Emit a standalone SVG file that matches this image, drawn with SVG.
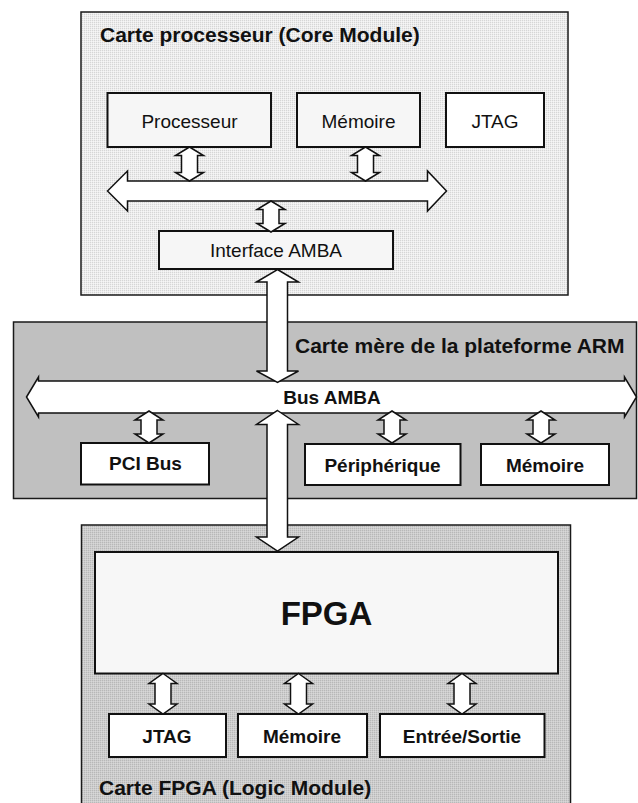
<svg xmlns="http://www.w3.org/2000/svg" width="638" height="803" viewBox="0 0 638 803">
<defs>
<pattern id="ditherLight" patternUnits="userSpaceOnUse" width="2" height="2">
<rect width="2" height="2" fill="#ededed"/>
<rect width="1" height="1" fill="#d6d6d6"/>
<rect x="1" y="1" width="1" height="1" fill="#f6f6f6"/>
</pattern>
<pattern id="ditherMid" patternUnits="userSpaceOnUse" width="2" height="2">
<rect width="2" height="2" fill="#cdcdcd"/>
<rect width="1" height="1" fill="#b8b8b8"/>
<rect x="1" y="1" width="1" height="1" fill="#d8d8d8"/>
</pattern>
<style>
.panel{stroke:#1a1a1a;stroke-width:1.5}
.box{stroke:#111;stroke-width:2}
.arrow{fill:#fff;stroke:#111;stroke-width:1.5;stroke-linejoin:miter}
.t{font-family:"Liberation Sans",Arial,sans-serif;fill:#111;font-size:19px;text-anchor:middle}
.b{font-weight:bold}
.title{font-family:"Liberation Sans",Arial,sans-serif;fill:#111;font-size:21px;font-weight:bold}
</style>
</defs>
<rect width="638" height="803" fill="#fff"/>

<g id="panel-core">
<rect class="panel" x="81" y="12" width="487" height="283" fill="url(#ditherLight)"/>
<text class="title" x="100" y="42">Carte processeur (Core Module)</text>
</g>
<g id="panel-mother">
<rect class="panel" x="13.5" y="322" width="623" height="176.5" fill="#c0c0c0"/>
<text class="title" x="295" y="353">Carte mère de la plateforme ARM</text>
</g>
<g id="panel-logic">
<rect class="panel" x="81.5" y="525" width="489" height="290" fill="url(#ditherMid)"/>
<text class="title" x="99" y="795">Carte FPGA (Logic Module)</text>
</g>

<g id="processeur"><rect class="box" x="107.5" y="93" width="163.5" height="54" fill="#f6f6f6"/><text class="t" x="189.5" y="128">Processeur</text></g>
<g id="memoire-core"><rect class="box" x="297" y="93" width="123" height="54" fill="#f6f6f6"/><text class="t" x="358.5" y="128">Mémoire</text></g>
<g id="jtag-core"><rect class="box" x="446" y="93" width="98" height="54" fill="#fff"/><text class="t" x="495" y="128">JTAG</text></g>
<g id="interface-amba"><rect class="box" x="159" y="231" width="234" height="38" fill="#f6f6f6"/><text class="t" x="276" y="257">Interface AMBA</text></g>

<g id="pci-bus"><rect class="box" x="81" y="443" width="128" height="41.5" fill="#fff"/><text class="t b" x="145.5" y="470">PCI Bus</text></g>
<g id="peripherique"><rect class="box" x="305" y="444" width="155.5" height="41" fill="#fff"/><text class="t b" x="382.5" y="471.5">Périphérique</text></g>
<g id="memoire-mother"><rect class="box" x="481" y="444" width="128" height="41" fill="#fff"/><text class="t b" x="545" y="471.5">Mémoire</text></g>

<g id="fpga"><rect class="box" x="95" y="552" width="463" height="121.5" fill="#f7f7f7"/><text class="t b" x="326.5" y="625" style="font-size:33px">FPGA</text></g>
<g id="jtag-logic"><rect class="box" x="109" y="714" width="117" height="43" fill="#fff"/><text class="t b" x="167" y="742.5">JTAG</text></g>
<g id="memoire-logic"><rect class="box" x="238" y="714" width="129" height="43" fill="#fff"/><text class="t b" x="302" y="742.5">Mémoire</text></g>
<g id="entree-sortie"><rect class="box" x="380" y="714" width="164.5" height="43" fill="#fff"/><text class="t b" x="462" y="742.5">Entrée/Sortie</text></g>

<g id="connectors">
<path class="arrow" d="M107.5,191 L127.5,171 L127.5,181 L427.5,181 L427.5,171 L446.5,191 L427.5,211 L427.5,201 L127.5,201 L127.5,211 Z"/>
<path class="arrow" d="M189.5,147 L203.5,155.5 L197.5,155.5 L197.5,172.5 L203.5,172.5 L189.5,181 L175.5,172.5 L181.5,172.5 L181.5,155.5 L175.5,155.5 Z"/>
<path class="arrow" d="M365.5,147 L379.5,155.5 L373.5,155.5 L373.5,172.5 L379.5,172.5 L365.5,181 L351.5,172.5 L357.5,172.5 L357.5,155.5 L351.5,155.5 Z"/>
<path class="arrow" d="M271,201 L285,209.5 L279,209.5 L279,223.5 L285,223.5 L271,232 L257,223.5 L263,223.5 L263,209.5 L257,209.5 Z"/>
<path class="arrow" d="M26.5,397 L38.5,377 L38.5,381 L624.5,381 L624.5,377 L636.5,397 L624.5,417 L624.5,413 L38.5,413 L38.5,417 Z"/>
<text class="t b" x="332" y="403.5">Bus AMBA</text>
<path class="arrow" d="M277.5,269.5 L298.5,282 L287.5,282 L287.5,371 L298.5,371 L277.5,382.5 L256.5,371 L267,371 L267,282 L256.5,282 Z"/>
<path class="arrow" d="M277.5,410.5 L298.5,424.5 L287.5,424.5 L287.5,537 L298.5,537 L277.5,551 L256.5,537 L267,537 L267,424.5 L256.5,424.5 Z"/>
<path class="arrow" d="M149,411 L163,420 L157,420 L157,434 L163,434 L149,443 L135,434 L141,434 L141,420 L135,420 Z"/>
<path class="arrow" d="M392,411 L406,420 L400,420 L400,434 L406,434 L392,443 L378,434 L384,434 L384,420 L378,420 Z"/>
<path class="arrow" d="M541,411 L555,420 L549,420 L549,434 L555,434 L541,443 L527,434 L533,434 L533,420 L527,420 Z"/>
<path class="arrow" d="M163,673.5 L177,683.5 L171,683.5 L171,704 L177,704 L163,714 L149,704 L155,704 L155,683.5 L149,683.5 Z"/>
<path class="arrow" d="M298.5,673.5 L312.5,683.5 L306.5,683.5 L306.5,704 L312.5,704 L298.5,714 L284.5,704 L290.5,704 L290.5,683.5 L284.5,683.5 Z"/>
<path class="arrow" d="M462,673.5 L476,683.5 L470,683.5 L470,704 L476,704 L462,714 L448,704 L454,704 L454,683.5 L448,683.5 Z"/>
</g>
</svg>
